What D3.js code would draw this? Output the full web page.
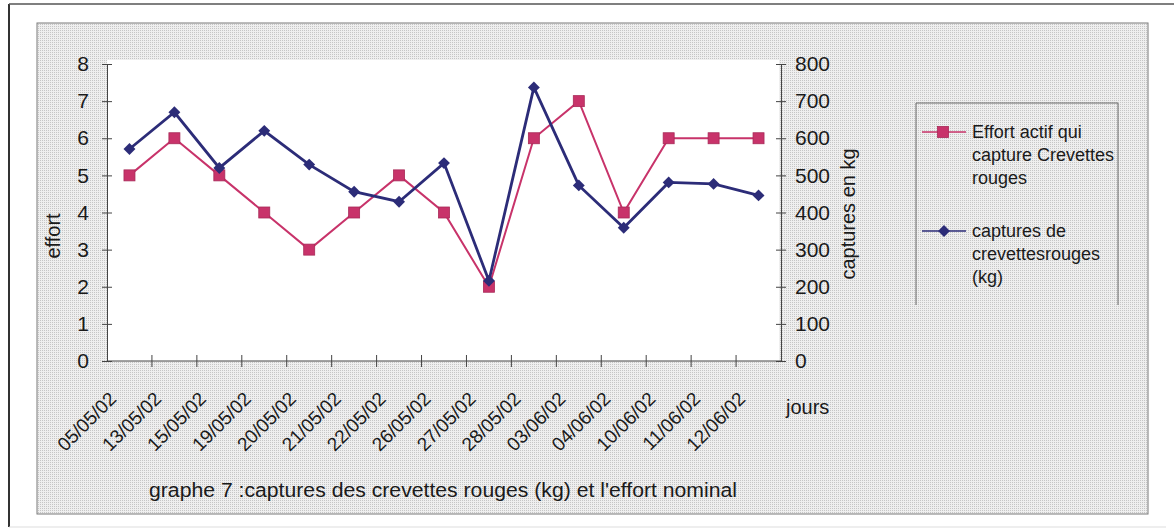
<!DOCTYPE html>
<html>
<head>
<meta charset="utf-8">
<script src="https://cdnjs.cloudflare.com/ajax/libs/d3/7.8.5/d3.min.js"></script>
<style>
	body { margin: 0; background: #fff; }
	svg { display: block; }
	text { font-family: "Liberation Sans", Arial, sans-serif; fill: #1a1a1a; }
</style>
</head>
<body>
<div id="chart"></div>
<script>
// dates of the trips (x categories)
var jours = ["05/05/02", "13/05/02", "15/05/02", "19/05/02", "20/05/02", "21/05/02", "22/05/02",
	"26/05/02", "27/05/02", "28/05/02", "03/06/02", "04/06/02", "10/06/02", "11/06/02", "12/06/02"];
// effort actif (left axis)
var effort = [5, 6, 5, 4, 3, 4, 5, 4, 2, 6, 7, 4, 6, 6, 6];
// captures de crevettes rouges en kg (right axis)
var captures = [571, 670, 520, 620, 529, 456, 429, 533, 216, 737, 473, 359, 481, 477, 446];

var effortTicks = [0, 1, 2, 3, 4, 5, 6, 7, 8];
var capturesTicks = [0, 100, 200, 300, 400, 500, 600, 700, 800];

var legendEntries = [
	{ lines: ["Effort actif qui", "capture Crevettes", "rouges"], kind: "effort" },
	{ lines: ["captures de", "crevettesrouges", "(kg)"], kind: "captures" }
];

var pink = '#c8336a';
var navy = '#2c2c78';

var W = 1174, H = 531;
var plot = { left: 107, right: 781, top: 64, bottom: 361 };

var svg = d3.select("#chart")
	.append("svg")
	.attr("width", W)
	.attr("height", H);

// dotted grey fill like the scanned excel chart area
var defs = svg.append("defs");
var pat = defs.append("pattern")
	.attr("id", "dots")
	.attr("width", 2)
	.attr("height", 2)
	.attr("patternUnits", "userSpaceOnUse");
pat.append("rect").attr("width", 2).attr("height", 2).attr("fill", "#efefef");
pat.append("rect").attr("width", 1).attr("height", 1).attr("fill", "#c6c6c6");

// outer frame
svg.append("line").attr("x1", 9).attr("x2", 9).attr("y1", 4).attr("y2", 527)
	.attr("stroke", "#333").attr("stroke-width", 2);
svg.append("line").attr("x1", 9).attr("x2", 1174).attr("y1", 4).attr("y2", 4)
	.attr("stroke", "#555").attr("stroke-width", 1.5);
svg.append("line").attr("x1", 9).attr("x2", 1166).attr("y1", 527).attr("y2", 527)
	.attr("stroke", "#ddd").attr("stroke-width", 1);

// chart area
svg.append("rect")
	.attr("x", 37).attr("y", 23)
	.attr("width", 1111).attr("height", 491)
	.attr("fill", "url(#dots)")
	.attr("stroke", "#7a7a7a")
	.attr("stroke-width", 1);

// plot area
svg.append("rect")
	.attr("x", plot.left).attr("y", 60)
	.attr("width", 672).attr("height", plot.bottom - 60)
	.attr("fill", "#fff");

// scales
var x = d3.scaleBand().domain(jours).range([plot.left, plot.right]);
var yL = d3.scaleLinear().domain([0, 8]).range([plot.bottom, plot.top]);
var yR = d3.scaleLinear().domain([0, 800]).range([plot.bottom, plot.top]);
var cx = function(d) { return x(d) + x.bandwidth() / 2; };

// left axis
var gL = svg.append("g")
	.attr("transform", "translate(" + plot.left + ",0)")
	.call(d3.axisLeft(yL).tickValues(effortTicks).tickSize(5).tickPadding(13).tickSizeOuter(0));
gL.selectAll(".tick line").attr("x1", 5);
gL.selectAll("text").style("font-size", "21px");

// right axis
var gR = svg.append("g")
	.attr("transform", "translate(" + plot.right + ",0)")
	.call(d3.axisRight(yR).tickValues(capturesTicks).tickSize(5).tickPadding(9).tickSizeOuter(0));
gR.selectAll(".tick line").attr("x1", -5);
gR.selectAll("text").style("font-size", "21px");

// bottom axis: ticks between categories
var gB = svg.append("g")
	.attr("transform", "translate(0," + plot.bottom + ")");
gB.append("line")
	.attr("x1", plot.left).attr("x2", plot.right)
	.attr("stroke", "#444");
gB.selectAll(".btick")
	.data(jours.slice(1))
	.enter()
	.append("line")
	.attr("class", "btick")
	.attr("x1", function(d) { return x(d); })
	.attr("x2", function(d) { return x(d); })
	.attr("y1", -6).attr("y2", 6)
	.attr("stroke", "#444");
gB.selectAll(".blabel")
	.data(jours)
	.enter()
	.append("text")
	.attr("class", "blabel")
	.attr("text-anchor", "end")
	.attr("transform", function(d) { return "translate(" + (cx(d) - 12) + ",39) rotate(-45)"; })
	.style("font-size", "19px")
	.text(function(d) { return d; });

svg.selectAll(".domain").attr("stroke", "#444");
svg.selectAll(".tick line").attr("stroke", "#444");

// axis titles
svg.append("text")
	.attr("transform", "translate(60,236) rotate(-90)")
	.attr("text-anchor", "middle")
	.style("font-size", "20px")
	.text("effort");
svg.append("text")
	.attr("transform", "translate(855,214) rotate(-90)")
	.attr("text-anchor", "middle")
	.style("font-size", "20px")
	.text("captures en kg");
svg.append("text")
	.attr("x", 786).attr("y", 414)
	.style("font-size", "20px")
	.text("jours");
svg.append("text")
	.attr("x", 149).attr("y", 497)
	.attr("textLength", 588)
	.attr("lengthAdjust", "spacingAndGlyphs")
	.style("font-size", "20px")
	.text("graphe 7 :captures des crevettes rouges (kg) et l'effort nominal");

// lines
var lineE = d3.line().x(function(d, i) { return cx(jours[i]); }).y(function(d) { return yL(d); });
var lineC = d3.line().x(function(d, i) { return cx(jours[i]); }).y(function(d) { return yR(d); });

svg.append("path")
	.attr("d", lineE(effort))
	.attr("fill", "none")
	.attr("stroke", pink)
	.attr("stroke-width", 2);
svg.append("path")
	.attr("d", lineC(captures))
	.attr("fill", "none")
	.attr("stroke", navy)
	.attr("stroke-width", 2.8);

var diamond = d3.symbol().type(d3.symbolDiamond2).size(90);

function drawSquare(g, px, py) {
	g.append("rect")
		.attr("x", px - 5.5).attr("y", py - 5.5)
		.attr("width", 11).attr("height", 11)
		.attr("fill", pink)
		.attr("stroke", "#a82a58")
		.attr("stroke-width", 0.8);
}
function drawDiamond(g, px, py) {
	g.append("path")
		.attr("d", diamond())
		.attr("transform", "translate(" + px + "," + py + ")")
		.attr("fill", navy);
}

var marks = svg.append("g");
effort.forEach(function(v, i) { drawSquare(marks, cx(jours[i]), yL(v)); });
captures.forEach(function(v, i) { drawDiamond(marks, cx(jours[i]), yR(v)); });

// legend (box open at the bottom, as on the scan)
var leg = svg.append("g");
leg.append("path")
	.attr("d", "M916,305 V103 H1118 V305")
	.attr("fill", "none")
	.attr("stroke", "#666")
	.attr("stroke-width", 1);

var legY = [132, 231];
legendEntries.forEach(function(e, i) {
	var y0 = legY[i];
	var col = e.kind === "effort" ? pink : navy;
	leg.append("line")
		.attr("x1", 922).attr("x2", 966)
		.attr("y1", y0).attr("y2", y0)
		.attr("stroke", col)
		.attr("stroke-width", 1.5);
	if (e.kind === "effort") drawSquare(leg, 943, y0);
	else drawDiamond(leg, 944, y0);
	leg.selectAll(null)
		.data(e.lines)
		.enter()
		.append("text")
		.attr("x", 972)
		.attr("y", function(d, k) { return y0 + 6 + k * 23; })
		.style("font-size", "18px")
		.text(function(d) { return d; });
});
</script>
</body>
</html>
